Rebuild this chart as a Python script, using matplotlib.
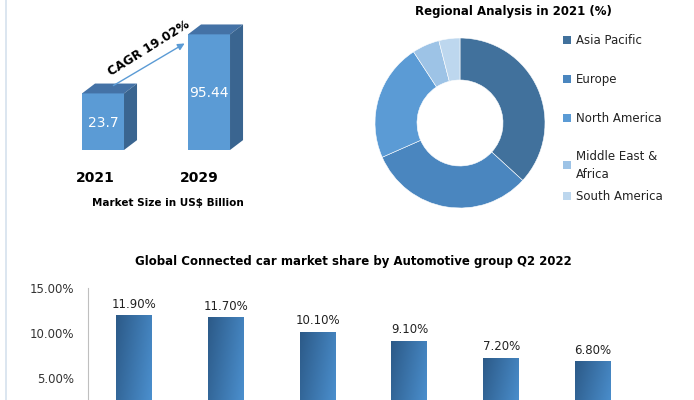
import numpy as np
import matplotlib.pyplot as plt
from matplotlib.patches import Polygon
from matplotlib.colors import LinearSegmentedColormap

# dados do painel de tamanho de mercado
anos = ['2021', '2029']
tamanho_mercado = [23.7, 95.44]
cagr_texto = 'CAGR 19.02%'

# dados da análise regional
regioes = ['Asia Pacific', 'Europe', 'North America', 'Middle East &\nAfrica', 'South America']
participacao_regional = [36.8, 31.6, 22.4, 5.2, 4.0]
cores_regioes = ['#41719C', '#4A86BF', '#5B9BD5', '#9DC3E6', '#BDD7EE']

# dados de participação por grupo automotivo (nomes cortados na imagem)
grupos = ['G1', 'G2', 'G3', 'G4', 'G5', 'G6']
participacao_grupos = [11.90, 11.70, 10.10, 9.10, 7.20, 6.80]

W, H = 694, 400
fig = plt.figure(figsize=(W / 100, H / 100), dpi=100)
fig.patch.set_facecolor('white')


def caixa(x0, y0, x1, y1):
    # converte pixels (origem no topo) para fração da figura
    return [x0 / W, 1 - y1 / H, (x1 - x0) / W, (y1 - y0) / H]


# borda fina à esquerda
fig.add_artist(plt.Line2D([6 / W, 6 / W], [0, 1], color='#D6E2EE', lw=1.2))

# ---- painel 1: barras 3D ----
ax1 = fig.add_axes(caixa(60, 10, 270, 150))
ax1.set_xlim(-0.6, 1.9)
base = -45.0
ax1.set_ylim(base, 125)
ax1.axis('off')
largura = 0.5
dx, dy = 0.155, 12.0
for i, v in enumerate(tamanho_mercado):
    x0 = -0.338 + i * 1.262
    x1 = x0 + largura
    ax1.add_patch(Polygon([(x0, base), (x1, base), (x1, v), (x0, v)],
                          closed=True, fc='#5B9BD5', ec='none', zorder=3))
    ax1.add_patch(Polygon([(x0, v), (x1, v), (x1 + dx, v + dy), (x0 + dx, v + dy)],
                          closed=True, fc='#4472A6', ec='none', zorder=3))
    ax1.add_patch(Polygon([(x1, base), (x1 + dx, base + dy), (x1 + dx, v + dy), (x1, v)],
                          closed=True, fc='#3A6590', ec='none', zorder=3))
    ax1.text((x0 + x1) / 2, (base + v) / 2 - 1.5, str(v) if i == 0 else f'{v:.2f}',
             color='white', ha='center', va='center', fontsize=10, zorder=4)
ax1.annotate('', xy=(0.912, 86.1), xytext=(0.007, 31.5),
             arrowprops=dict(arrowstyle='-|>', color='#5B9BD5', lw=1.0,
                             mutation_scale=10), zorder=5)
ax1.text(0.46, 79, cagr_texto, rotation=32, ha='center', va='center',
         fontsize=8.8, fontweight='bold', zorder=5)

for i, a in enumerate(anos):
    fig.text((95 + i * 104) / W, 1 - 178 / H, a, ha='center', va='center',
             fontsize=10, fontweight='bold')
fig.text(168 / W, 1 - 203 / H, 'Market Size in US$ Billion', ha='center',
         va='center', fontsize=7.5, fontweight='bold')

# ---- painel 2: rosca ----
ax2 = fig.add_axes(caixa(375, 38, 545, 208))
ax2.pie(participacao_regional, colors=cores_regioes, startangle=90, counterclock=False,
        radius=1.0, wedgeprops=dict(width=42 / 85, edgecolor='white', linewidth=0.4))
ax2.set_xlim(-1, 1)
ax2.set_ylim(-1, 1)
ax2.set_aspect('equal')
fig.text(513 / W, 1 - 11 / H, 'Regional Analysis in 2021 (%)', ha='center',
         va='center', fontsize=8.5, fontweight='bold')
pos_legenda = [40, 79, 118, 165, 196]
for nome, cor, yl in zip(regioes, cores_regioes, pos_legenda):
    fig.patches.append(plt.Rectangle((563 / W, 1 - (yl + 4) / H), 8 / W, 8 / H,
                                     transform=fig.transFigure, fc=cor, ec='none'))
    fig.text(576 / W, 1 - yl / H, nome, ha='left', va='center', fontsize=8.5,
             color='#222222', linespacing=1.5)

# ---- painel 3: barras com gradiente ----
fig.text(353 / W, 1 - 261 / H, 'Global Connected car market share by Automotive group Q2 2022',
         ha='center', va='center', fontsize=8.5, fontweight='bold')
ax3 = fig.add_axes(caixa(88, 288, 639, 423))
for lado in ['top', 'right', 'bottom']:
    ax3.spines[lado].set_visible(False)
ax3.spines['left'].set_color('#BFBFBF')
ax3.set_yticks([5, 10, 15])
ax3.set_yticklabels(['5.00%', '10.00%', '15.00%'], fontsize=8.5, color='#333333')
ax3.tick_params(axis='y', length=0, pad=10)
ax3.set_xticks([])

gy, gx = np.mgrid[0:1:50j, 0:1:50j]
grad = gx * 0.7 + gy * 0.3
cmap = LinearSegmentedColormap.from_list('barra', ['#2C5A88', '#4D93D3'])
larg = 36 / 91.9
for i, v in enumerate(participacao_grupos):
    ax3.imshow(grad, extent=(i - larg / 2, i + larg / 2, 0, v), cmap=cmap,
               aspect='auto', origin='upper', zorder=3)
    ax3.text(i, v + 1.3, f'{v:.2f}%', ha='center', va='center', fontsize=8.5,
             color='#222222')
ax3.set_xlim(-0.5, len(grupos) - 0.5)
ax3.set_ylim(0, 15)

fig.savefig('out.png', dpi=100)
